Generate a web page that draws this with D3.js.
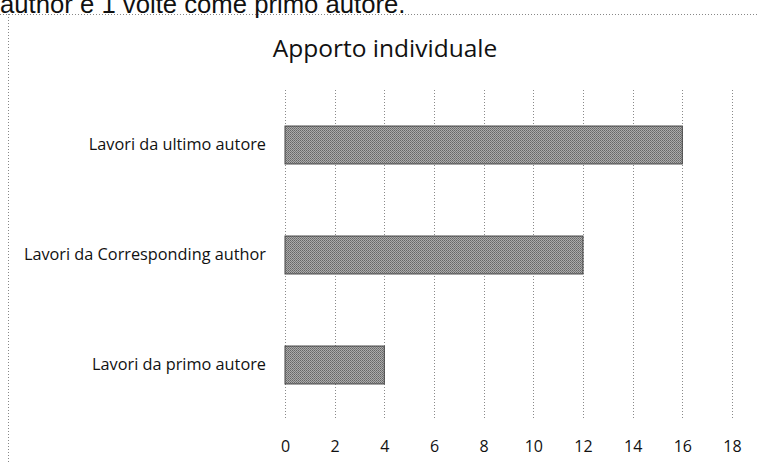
<!DOCTYPE html>
<html>
<head>
<meta charset="utf-8">
<script src="https://cdn.jsdelivr.net/npm/d3@7"></script>
<style>
  body { margin: 0; background: #fff; }
  svg { display: block; font-family: 'Open Sans', sans-serif; }
</style>
</head>
<body>
<svg id="chart" width="758" height="462"></svg>
<script>
const categories = ['Lavori da primo autore', 'Lavori da Corresponding author', 'Lavori da ultimo autore']
const values = [4, 12, 16]
const ticks = [0, 2, 4, 6, 8, 10, 12, 14, 16, 18]

const margin = { top: 90, right: 26, bottom: 42, left: 285 }
const width = 758 - (margin.left + margin.right)
const height = 462 - (margin.top + margin.bottom)

const svg = d3.select('#chart')

// halftone-ish fill like the scan
const defs = svg.append('defs')
const pat = defs.append('pattern')
  .attr('id', 'dots')
  .attr('width', 2)
  .attr('height', 2)
  .attr('patternUnits', 'userSpaceOnUse')
pat.append('rect').attr('width', 2).attr('height', 2).attr('fill', '#ababab')
pat.append('rect').attr('width', 1).attr('height', 1).attr('fill', '#666')
pat.append('rect').attr('x', 1).attr('y', 1).attr('width', 1).attr('height', 1).attr('fill', '#787878')

// text cut off at the top of the page
svg.append('text')
  .attr('x', 0)
  .attr('y', 13)
  .attr('font-family', 'Liberation Sans, sans-serif')
  .attr('font-size', 25.7)
  .attr('fill', '#111')
  .text('author e 1 volte come primo autore.')

// dotted frame of the chart box
svg.append('line')
  .attr('x1', 0).attr('x2', 758)
  .attr('y1', 14.5).attr('y2', 14.5)
  .attr('stroke', '#888')
  .attr('stroke-dasharray', '1,2')
svg.append('line')
  .attr('x1', 8.5).attr('x2', 8.5)
  .attr('y1', 14).attr('y2', 462)
  .attr('stroke', '#888')
  .attr('stroke-dasharray', '1,2')

// title
svg.append('text')
  .attr('x', 385)
  .attr('y', 57)
  .attr('text-anchor', 'middle')
  .attr('font-size', 24.5)
  .attr('fill', '#111')
  .text('Apporto individuale')

const xscale = d3.scaleLinear()
  .domain([0, 18])
  .range([margin.left, margin.left + width])

const yscale = d3.scaleBand()
  .domain(categories.slice().reverse())
  .range([margin.top, margin.top + height])
  .paddingInner(0.655)
  .paddingOuter(0.3275)

// grid lines
svg.append('g')
  .selectAll('line')
  .data(ticks)
  .enter()
  .append('line')
  .attr('x1', d => Math.round(xscale(d)) + 0.5)
  .attr('x2', d => Math.round(xscale(d)) + 0.5)
  .attr('y1', margin.top)
  .attr('y2', margin.top + height)
  .attr('stroke', '#8a8a8a')
  .attr('stroke-dasharray', '1,2')

// bars
svg.append('g')
  .selectAll('rect')
  .data(categories)
  .enter()
  .append('rect')
  .attr('x', xscale(0))
  .attr('y', d => yscale(d))
  .attr('width', (d, i) => xscale(values[i]) - xscale(0))
  .attr('height', yscale.bandwidth())
  .attr('fill', 'url(#dots)')
  .attr('stroke', '#444')
  .attr('stroke-width', 1)

// bottom axis (labels only)
const bottomAxis = d3.axisBottom(xscale)
  .tickValues(ticks)
  .tickSize(0)
  .tickPadding(21)
svg.append('g')
  .attr('transform', `translate(0, ${margin.top + height})`)
  .call(bottomAxis)
  .call(g => g.select('.domain').remove())
  .call(g => g.selectAll('text')
    .attr('font-family', 'Open Sans, sans-serif')
    .attr('font-size', 16)
    .attr('fill', '#111'))

// left axis (labels only)
const leftAxis = d3.axisLeft(yscale)
  .tickSize(0)
  .tickPadding(19)
svg.append('g')
  .attr('transform', `translate(${margin.left}, 0)`)
  .call(leftAxis)
  .call(g => g.select('.domain').remove())
  .call(g => g.selectAll('text')
    .attr('font-family', 'Open Sans, sans-serif')
    .attr('font-size', 16.3)
    .attr('fill', '#111'))
</script>
</body>
</html>
